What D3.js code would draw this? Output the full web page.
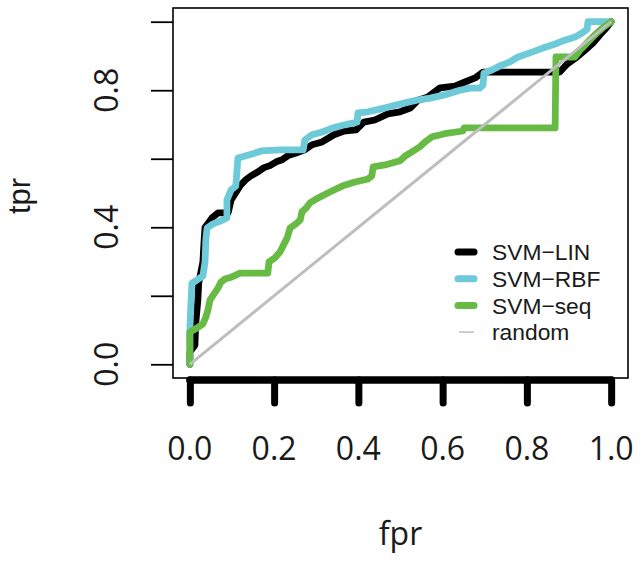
<!DOCTYPE html>
<html>
<head>
<meta charset="utf-8">
<script src="https://cdn.jsdelivr.net/npm/d3@7"></script>
<style>
  html, body { margin: 0; padding: 0; background: #fff; }
  svg { display: block; }
  text { font-family: "Open Sans", "Noto Sans", sans-serif; fill: #1a1a1a; }
  text.alt { font-family: "Liberation Sans", "Open Sans", sans-serif; }
</style>
</head>
<body>
<div id="chart"></div>
<script>
// ---- data (fpr, tpr) ----
const linFpr = [0,0,0.012,0.014,0.019,0.021,0.031,0.034,0.036,0.053,0.067,0.091,0.098,0.109,0.121,0.133,0.145,0.162,0.176,0.190,0.205,0.219,0.233,0.252,0.273,0.290,0.314,0.342,0.366,0.394,0.413,0.439,0.470,0.499,0.523,0.542,0.565,0.594,0.629,0.653,0.677,0.696,0.878,0.895,0.919,0.938,0.957,0.973,0.988,1.0];
const linTpr = [0,0.036,0.056,0.121,0.188,0.237,0.299,0.364,0.399,0.428,0.442,0.442,0.480,0.501,0.524,0.539,0.550,0.562,0.574,0.580,0.591,0.597,0.609,0.617,0.626,0.641,0.649,0.670,0.681,0.684,0.707,0.713,0.731,0.737,0.748,0.771,0.780,0.807,0.812,0.824,0.836,0.853,0.853,0.876,0.897,0.917,0.938,0.961,0.981,1.0];

const rbfFpr = [0,0,0.003,0.005,0.017,0.031,0.036,0.038,0.041,0.055,0.072,0.088,0.088,0.098,0.109,0.112,0.114,0.131,0.148,0.171,0.214,0.269,0.273,0.290,0.314,0.340,0.368,0.397,0.399,0.423,0.451,0.480,0.511,0.539,0.570,0.610,0.641,0.665,0.688,0.696,0.698,0.717,0.736,0.760,0.779,0.807,0.838,0.867,0.890,0.914,0.931,0.943,0.945,1.0];
const rbfTpr = [0,0.100,0.188,0.237,0.246,0.258,0.299,0.364,0.398,0.410,0.418,0.427,0.480,0.509,0.520,0.567,0.602,0.608,0.614,0.623,0.626,0.626,0.655,0.670,0.678,0.690,0.699,0.707,0.734,0.737,0.745,0.754,0.763,0.771,0.777,0.788,0.800,0.806,0.806,0.815,0.850,0.859,0.871,0.883,0.897,0.909,0.923,0.935,0.946,0.955,0.967,0.978,1.0,1.0];

const seqFpr = [0,0,0.017,0.031,0.038,0.043,0.048,0.057,0.067,0.074,0.083,0.100,0.119,0.185,0.188,0.202,0.214,0.221,0.231,0.238,0.252,0.262,0.266,0.276,0.285,0.297,0.309,0.332,0.363,0.392,0.423,0.432,0.435,0.463,0.499,0.511,0.527,0.546,0.558,0.575,0.605,0.648,0.651,0.867,0.869,0.914,0.926,0.938,0.949,0.966,0.980,1.0];
const seqTpr = [0,0.094,0.106,0.118,0.138,0.159,0.188,0.205,0.223,0.240,0.249,0.255,0.266,0.266,0.299,0.311,0.328,0.345,0.369,0.398,0.410,0.421,0.445,0.456,0.471,0.480,0.488,0.503,0.521,0.532,0.541,0.550,0.576,0.582,0.594,0.608,0.620,0.635,0.649,0.664,0.673,0.681,0.690,0.690,0.897,0.897,0.917,0.932,0.946,0.967,0.982,1.0];

const randomFpr = [0, 1];
const randomTpr = [0, 1];

const seriesNames = ["SVM\u2212LIN", "SVM\u2212RBF", "SVM\u2212seq", "random"];
const seriesColors = ["#000000", "#6ccad9", "#67bb45", "#bebebe"];
const xTicks = [0, 0.2, 0.4, 0.6, 0.8, 1.0];
const xTickLabels = ["0.0", "0.2", "0.4", "0.6", "0.8", "1.0"];
const yTicks = [0, 0.2, 0.4, 0.6, 0.8, 1.0];
const yLabelTicks = [0, 0.4, 0.8];
const yTickLabels = ["0.0", "0.4", "0.8"];

// ---- layout ----
const W = 642, H = 565;
const plot = { left: 173, right: 628, top: 8, bottom: 378 };

const svg = d3.select("#chart").append("svg").attr("width", W).attr("height", H);

const x = d3.scaleLinear().domain([-0.04, 1.04]).range([plot.left, plot.right]);
const y = d3.scaleLinear().domain([-0.04, 1.04]).range([plot.bottom, plot.top]);

const zip = (a, b) => a.map((v, i) => [v, b[i]]);
const line = d3.line().x(d => x(d[0])).y(d => y(d[1]));

// box
svg.append("rect")
  .attr("x", plot.left).attr("y", plot.top)
  .attr("width", plot.right - plot.left).attr("height", plot.bottom - plot.top)
  .attr("fill", "none").attr("stroke", "#000").attr("stroke-width", 1.6);

// curves
const curves = [zip(linFpr, linTpr), zip(rbfFpr, rbfTpr), zip(seqFpr, seqTpr)];
curves.forEach((c, i) => {
  svg.append("path").datum(c)
    .attr("d", line)
    .attr("fill", "none")
    .attr("stroke", seriesColors[i])
    .attr("stroke-width", 6.8)
    .attr("stroke-linejoin", "round")
    .attr("stroke-linecap", "round");
});
svg.append("path").datum(zip(randomFpr, randomTpr))
  .attr("d", line).attr("fill", "none")
  .attr("stroke", seriesColors[3]).attr("stroke-width", 3);

// y axis (thin)
const yAxis = d3.axisLeft(y).tickValues(yTicks).tickSize(22).tickFormat("").tickSizeOuter(0);
const ya = svg.append("g").attr("transform", `translate(${plot.left},0)`).call(yAxis);
ya.select(".domain").remove();
ya.selectAll(".tick line").attr("stroke", "#000").attr("stroke-width", 1.8);
yLabelTicks.forEach((v, i) => {
  svg.append("text")
    .attr("transform", `translate(118,${y(v)}) rotate(-90)`)
    .attr("text-anchor", "middle")
    .attr("font-size", 32)
    .text(yTickLabels[i]);
});

// x axis (thick)
const xAxis = d3.axisBottom(x).tickValues(xTicks).tickSize(23).tickFormat("").tickSizeOuter(0);
const xa = svg.append("g").attr("transform", `translate(0,380)`).call(xAxis);
xa.select(".domain").remove();
xa.append("line")
  .attr("x1", x(0)).attr("x2", x(1)).attr("y1", 0).attr("y2", 0)
  .attr("stroke", "#000").attr("stroke-width", 7.5).attr("stroke-linecap", "round");
xa.selectAll(".tick line").attr("stroke", "#000").attr("stroke-width", 7).attr("stroke-linecap", "round");
xTicks.forEach((v, i) => {
  svg.append("text")
    .attr("x", x(v)).attr("y", 460)
    .attr("text-anchor", "middle")
    .attr("font-size", 32)
    .text(xTickLabels[i]);
});

// axis titles
svg.append("text").attr("x", (plot.left + plot.right) / 2).attr("y", 545)
  .attr("text-anchor", "middle").attr("font-size", 32).text("fpr");
svg.append("text").attr("class", "alt").attr("transform", `translate(30,196) rotate(-90)`)
  .attr("text-anchor", "middle").attr("font-size", 31).text("tpr");

// legend
const legY0 = 252, legDy = 26.7;
seriesNames.forEach((name, i) => {
  const yy = legY0 + i * legDy;
  if (i < 3) {
    svg.append("line").attr("x1", 458).attr("x2", 474).attr("y1", yy).attr("y2", yy)
      .attr("stroke", seriesColors[i]).attr("stroke-width", 7).attr("stroke-linecap", "round");
  } else {
    svg.append("line").attr("x1", 459).attr("x2", 474).attr("y1", yy).attr("y2", yy)
      .attr("stroke", seriesColors[i]).attr("stroke-width", 1.5);
  }
  svg.append("text").attr("class", "alt").attr("x", 492).attr("y", yy + 8.3)
    .attr("font-size", 22.8).text(name);
});
</script>
</body>
</html>
